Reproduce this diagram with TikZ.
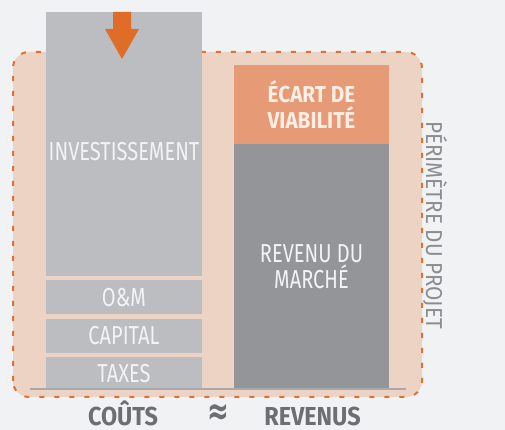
\documentclass[tikz,border=0pt]{standalone}
\usepackage{fontspec}
\setmainfont{Fira Sans}
\newfontfamily\condfont[FakeStretch=0.77]{Fira Sans}
\newfontfamily\widefont[FakeStretch=0.9]{Fira Sans}
\newfontfamily\symfont{DejaVu Sans}
\usetikzlibrary{positioning, arrows.meta}

\definecolor{pagebg}{HTML}{F1F2F4}
\definecolor{peach}{HTML}{EDD3C3}
\definecolor{dashorange}{HTML}{E2702F}
\definecolor{costgray}{HTML}{BCBDC0}
\definecolor{revgray}{HTML}{939598}
\definecolor{gapcolor}{HTML}{E69B76}
\definecolor{droporange}{HTML}{E06D27}
\definecolor{boxtext}{HTML}{F3F3F4}
\definecolor{gaptext}{HTML}{FCEDE5}
\definecolor{labelgray}{HTML}{6D6E71}
\definecolor{perimgray}{HTML}{8A8C8F}
\definecolor{groundgray}{HTML}{A7A9AC}

\begin{document}
\begin{tikzpicture}[x=1pt, y=1pt, node distance=4pt,
    box/.style={rectangle, inner sep=0pt, align=center, text=boxtext,
        font=\condfont\fontsize{26}{26}\selectfont},
    cost/.style={box, fill=costgray, minimum width=156pt},
    income/.style={box, minimum width=155pt},
    perimeter/.style={fill=peach, draw=dashorange, line width=2pt,
        dash pattern=on 5pt off 10pt, rounded corners=16pt},
    groundline/.style={draw=groundgray, line width=2pt},
    sumlabel/.style={text=labelgray, anchor=base, inner sep=0pt,
        font=\widefont\bfseries\fontsize{26}{26}\selectfont}]
    \useasboundingbox[fill=pagebg] (0,0) rectangle (505,430);
    \draw[perimeter] (13,33) rectangle (422,378);

    \node[cost, minimum height=264pt] (inv) at (124,286) {};
    \node[cost, minimum height=34pt, below=of inv] (om) {O\&M};
    \node[cost, minimum height=34pt, below=of om] (cap) {CAPITAL};
    \node[cost, minimum height=33pt, below=of cap] (tax) {TAXES};
    \node[box] (invtext) at ([yshift=-8pt]inv.center) {INVESTISSEMENT};

    \node[income, fill=gapcolor, minimum height=79pt, text=gaptext,
        font=\widefont\bfseries\fontsize{23}{26}\selectfont] (gap) at (311.5,325.5) {ÉCART DE\\VIABILITÉ};
    \node[income, fill=revgray, minimum height=245pt, below=0pt of gap] (rev) {REVENU DU\\MARCHÉ};

    \draw[groundline] (30,40.5) -- (406,40.5);

    \coordinate (drop) at (122,418);
    \coordinate (droptip) at (122,371);
    \fill[droporange] (drop) ++(-9,0) -- ++(0,-17) -- ++(-8,0) -- (droptip)
        -- ([shift={(17,30)}]droptip) -- ++(-8,0) -- ([xshift=9pt]drop) -- cycle;

    \node[rotate=-90, text=perimgray, font=\widefont\fontsize{23}{25}\selectfont] (perim) at (435,205) {PÉRIMÈTRE DU PROJET};

    \node[sumlabel] (costs) at (123,4.5) {COÛTS};
    \node[sumlabel] (income) at (312.5,4.5) {REVENUS};
    \node[text=labelgray, inner sep=0pt, font=\symfont\bfseries\fontsize{26}{26}\selectfont, yscale=1.5, transform shape] (approx) at (218.5,16) {≈};
\end{tikzpicture}
\end{document}
